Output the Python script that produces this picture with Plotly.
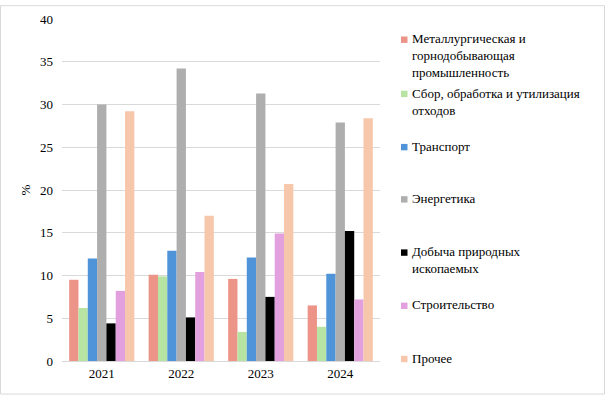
import plotly.graph_objects as go

years = ["2021", "2022", "2023", "2024"]
series_names = [
    "Металлургическая и<br>горнодобывающая<br>промышленность",
    "Сбор, обработка и утилизация<br>отходов",
    "Транспорт",
    "Энергетика",
    "Добыча природных<br>ископаемых",
    "Строительство",
    "Прочее",
]
metallurgy = [9.5, 10.1, 9.6, 6.5]
waste = [6.2, 9.9, 3.4, 4.0]
transport = [12.0, 12.9, 12.1, 10.2]
energy = [30.0, 34.2, 31.3, 27.9]
mining = [4.4, 5.1, 7.5, 15.2]
construction = [8.2, 10.4, 14.9, 7.2]
other = [29.2, 17.0, 20.7, 28.4]
y_ticks = [0, 5, 10, 15, 20, 25, 30, 35, 40]

values = [metallurgy, waste, transport, energy, mining, construction, other]
colors = ["#EB9487", "#B7E4A3", "#4F94D9", "#AEAEAE", "#000000", "#E3A0DE", "#F7C7AC"]

W, H = 605, 395
L, R, T, B = 62, 380, 14, 361
pw, ph = R - L, B - T

fig = go.Figure()
for name, vals, c in zip(series_names, values, colors):
    fig.add_trace(go.Bar(x=years, y=vals, name=name, marker=dict(color=c, line=dict(width=0)),
                         showlegend=False))

font = dict(family="'Times New Roman', 'Liberation Serif', 'DejaVu Serif', serif", size=13, color="#000000")

def px_x(p):
    return (p - L) / pw

def px_y(p):
    return (B - p) / ph

shapes = []
annotations = []
first_line_centers = [35, 90, 144, 197, 251, 305, 359]
for name, c, yc in zip(series_names, colors, first_line_centers):
    shapes.append(dict(type="rect", xref="paper", yref="paper",
                       x0=px_x(401), x1=px_x(407.5), y0=px_y(yc + 3.25), y1=px_y(yc - 3.25),
                       fillcolor=c, line=dict(width=0)))
    annotations.append(dict(xref="paper", yref="paper", x=px_x(410), y=px_y(yc - 10.5),
                            xanchor="left", yanchor="top", align="left", showarrow=False,
                            text=name, font=font))

# outer border
shapes.append(dict(type="rect", xref="paper", yref="paper",
                   x0=px_x(0.5), x1=px_x(W - 0.5), y0=px_y(H - 0.5), y1=px_y(0.5),
                   line=dict(color="#D9D9D9", width=1), fillcolor="rgba(0,0,0,0)"))

fig.update_layout(
    width=W, height=H,
    margin=dict(l=L, r=W - R, t=T, b=H - B),
    paper_bgcolor="white", plot_bgcolor="white",
    barmode="group", bargap=0.18, bargroupgap=0,
    font=font,
    shapes=shapes, annotations=annotations,
    xaxis=dict(showgrid=False, showline=True, linecolor="#D9D9D9", linewidth=1,
               ticks="", tickfont=font),
    yaxis=dict(range=[0, 40], tickvals=y_ticks, showgrid=True, gridcolor="#D9D9D9",
               gridwidth=1, zeroline=False, showline=False, ticks="", tickfont=font,
               ticklabelstandoff=8,
               title=dict(text="%", font=font, standoff=6)),
)

fig.write_html("out.html", config={"displayModeBar": False},
               post_script="document.body.style.margin='0';document.body.style.padding='0';")
